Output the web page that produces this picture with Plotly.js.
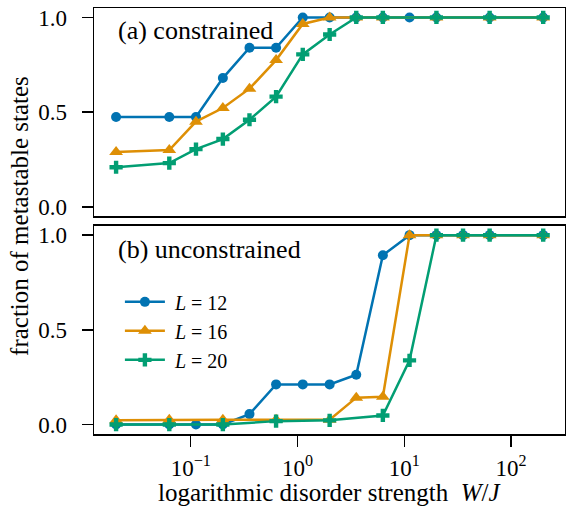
<!DOCTYPE html>
<html>
<head>
<meta charset="utf-8">
<script src="https://cdn.plot.ly/plotly-3.0.1.min.js"></script>
<style>html,body{margin:0;padding:0;background:#fff;}#chart{width:566px;height:508px;}</style>
</head>
<body>
<div id="chart"></div>
<script>
// ---- data ----
const seriesNames = ['<i>L</i> = 12', '<i>L</i> = 16', '<i>L</i> = 20'];
const colors = ['#0173B2', '#DE8F05', '#029E73'];

// (a) constrained
const blueA_x   = [0.02, 0.063, 0.112, 0.2, 0.355, 0.63, 1.12, 2.0, 3.55, 6.3, 11.2, 20, 63, 200];
const blueA_y   = [0.474, 0.474, 0.474, 0.68, 0.84, 0.84, 1, 1, 1, 1, 1, 1, 1, 1];
const orangeA_x = [0.02, 0.063, 0.112, 0.2, 0.355, 0.63, 1.12, 2.0, 3.55, 6.3, 20, 63, 200];
const orangeA_y = [0.29, 0.30, 0.45, 0.522, 0.624, 0.775, 0.966, 1, 1, 1, 1, 1, 1];
const greenA_x  = [0.02, 0.063, 0.112, 0.2, 0.355, 0.63, 1.12, 2.0, 3.55, 6.3, 20, 63, 200];
const greenA_y  = [0.209, 0.231, 0.305, 0.358, 0.46, 0.582, 0.805, 0.91, 1, 1, 1, 1, 1];

// (b) unconstrained
const blueB_x   = [0.02, 0.063, 0.112, 0.2, 0.355, 0.63, 1.12, 2.0, 3.55, 6.3, 11.2, 20, 35.5, 63, 200];
const blueB_y   = [0, 0, 0, 0, 0.055, 0.212, 0.212, 0.212, 0.263, 0.894, 1, 1, 1, 1, 1];
const orangeB_x = [0.02, 0.063, 0.2, 0.63, 2.0, 3.55, 6.3, 11.2, 20, 35.5, 63, 200];
const orangeB_y = [0.023, 0.025, 0.025, 0.025, 0.025, 0.142, 0.147, 1, 1, 1, 1, 1];
const greenB_x  = [0.02, 0.063, 0.2, 0.63, 2.0, 6.3, 11.2, 20, 35.5, 63, 200];
const greenB_y  = [0, 0, 0, 0.018, 0.022, 0.048, 0.339, 1, 1, 1, 1];

const xTickVals = [0.1, 1, 10, 100];
const xTickText = ['10<sup>−1</sup>', '10<sup>0</sup>', '10<sup>1</sup>', '10<sup>2</sup>'];
const yTickVals = [0, 0.5, 1];
const yTickText = ['0.0', '0.5', '1.0'];

const panelLabels = ['(a) constrained', '(b) unconstrained'];
const yTitle = 'fraction of metastable states';
const xTitle = 'logarithmic disorder strength  <i>W</i>/<i>J</i>';

// ---- styling ----
const FONT = 'Liberation Serif';
const symbols = ['circle', 'triangle-up', 'cross'];
const msizes = [10, 12, 11];
const pad = '\u00a0';

function tr(x, y, i, xa, ya, show) {
  return {
    x: x, y: y, xaxis: xa, yaxis: ya, type: 'scatter', mode: 'lines+markers',
    name: pad + seriesNames[i], showlegend: show,
    line: {color: colors[i], width: 2.5},
    marker: {color: colors[i], symbol: symbols[i], size: msizes[i], line: {width: 0}}
  };
}

const data = [
  tr(blueA_x, blueA_y, 0, 'x2', 'y2', false),
  tr(orangeA_x, orangeA_y, 1, 'x2', 'y2', false),
  tr(greenA_x, greenA_y, 2, 'x2', 'y2', false),
  tr(blueB_x, blueB_y, 0, 'x', 'y', true),
  tr(orangeB_x, orangeB_y, 1, 'x', 'y', true),
  tr(greenB_x, greenB_y, 2, 'x', 'y', true)
];

const xr = [Math.log10(0.01242), Math.log10(320)];
const yr = [-0.05, 1.05];

const axisCommon = {
  showline: true, linecolor: '#000', linewidth: 1.5, mirror: true,
  showgrid: false, zeroline: false,
  ticks: 'outside', ticklen: 11, tickwidth: 1.5, tickcolor: '#000',
  tickfont: {family: FONT, size: 23, color: '#000'}
};

const layout = {
  width: 566, height: 508,
  margin: {l: 94, r: 1, t: 8, b: 74},
  paper_bgcolor: '#fff', plot_bgcolor: '#fff',
  font: {family: FONT, color: '#000'},
  xaxis: Object.assign({}, axisCommon, {
    type: 'log', range: xr, anchor: 'y',
    tickvals: xTickVals, ticktext: xTickText, ticklabelstandoff: 2
  }),
  xaxis2: Object.assign({}, axisCommon, {
    type: 'log', range: xr, anchor: 'y2', matches: 'x',
    showticklabels: false, ticks: ''
  }),
  yaxis: Object.assign({}, axisCommon, {
    range: yr, domain: [0, 0.489], anchor: 'x',
    tickvals: yTickVals, ticktext: yTickText, ticklabelstandoff: 10
  }),
  yaxis2: Object.assign({}, axisCommon, {
    range: yr, domain: [0.511, 1], anchor: 'x2',
    tickvals: yTickVals, ticktext: yTickText, ticklabelstandoff: 10
  }),
  showlegend: true,
  legend: {
    x: 0.055, y: 0.356, xanchor: 'left', yanchor: 'top',
    bgcolor: 'rgba(255,255,255,0)', borderwidth: 0,
    font: {family: FONT, size: 20, color: '#000'},
    itemwidth: 40, tracegroupgap: 0
  },
  annotations: [
    {text: panelLabels[0], xref: 'paper', yref: 'paper', x: 0.047, y: 0.948,
     xanchor: 'left', yanchor: 'middle', showarrow: false,
     font: {family: FONT, size: 26, color: '#000'}},
    {text: panelLabels[1], xref: 'paper', yref: 'paper', x: 0.047, y: 0.434,
     xanchor: 'left', yanchor: 'middle', showarrow: false,
     font: {family: FONT, size: 26, color: '#000'}},
    {text: yTitle, xref: 'paper', yref: 'paper', x: -0.157, y: 0.512,
     xanchor: 'center', yanchor: 'middle', textangle: -90, showarrow: false,
     font: {family: FONT, size: 25, color: '#000'}},
    {text: xTitle, xref: 'paper', yref: 'paper', x: 0.5, y: -0.137,
     xanchor: 'center', yanchor: 'middle', showarrow: false,
     font: {family: FONT, size: 25, color: '#000'}}
  ]
};

Plotly.newPlot('chart', data, layout, {staticPlot: true, displayModeBar: false});
</script>
</body>
</html>
